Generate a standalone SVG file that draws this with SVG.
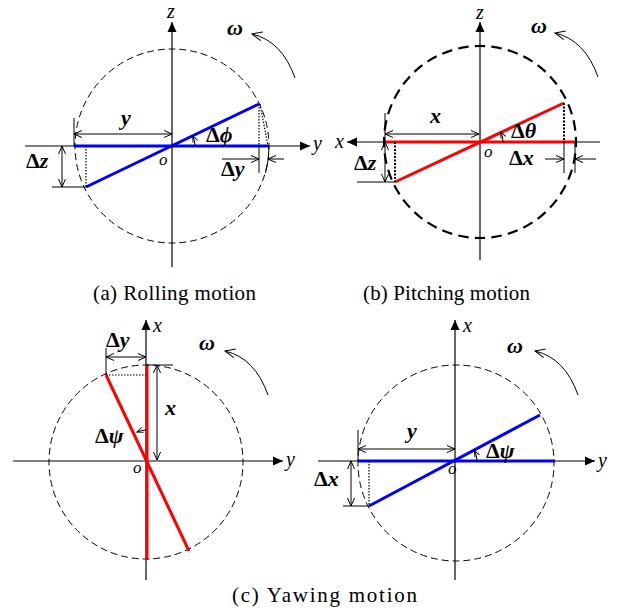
<svg xmlns="http://www.w3.org/2000/svg" width="620" height="613" viewBox="0 0 620 613">
<defs>
<marker id="ax" viewBox="0 0 10 10" refX="10" refY="5" markerWidth="10" markerHeight="10" markerUnits="userSpaceOnUse" orient="auto"><path d="M0,0.5 L10,5 L0,9.5 z" fill="#000"/></marker>
<marker id="dm" viewBox="-1 -1 10 9" refX="8" refY="3.5" markerWidth="10" markerHeight="9" markerUnits="userSpaceOnUse" orient="auto-start-reverse"><path d="M0,0 L8,3.5 L0,7" fill="none" stroke="#000" stroke-width="1"/></marker>
<marker id="sm" viewBox="-1 -1 8 7" refX="6" refY="2.5" markerWidth="8" markerHeight="7" markerUnits="userSpaceOnUse" orient="auto"><path d="M0,0 L6,2.5 L0,5" fill="none" stroke="#000" stroke-width="1"/></marker>
<marker id="om" viewBox="-1 -1 12 11" refX="10" refY="4.5" markerWidth="12" markerHeight="11" markerUnits="userSpaceOnUse" orient="auto"><path d="M0,0 L10,4.5 L0,9" fill="none" stroke="#000" stroke-width="1"/></marker>
<path id="omArc" d="M0,0 Q-13,-37 -43,-44" fill="none" stroke="#000" stroke-width="1" marker-end="url(#om)"/>
</defs>
<style>
.axis{stroke:#000;stroke-width:1.2;fill:none;marker-end:url(#ax)}
.thin{stroke:#000;stroke-width:1;fill:none}
.dim{stroke:#000;stroke-width:1;fill:none;marker-start:url(#dm);marker-end:url(#dm)}
.dim1{stroke:#000;stroke-width:1;fill:none;marker-end:url(#dm)}
.ang{stroke:#000;stroke-width:1;fill:none;marker-end:url(#sm)}
.dot{stroke:#000;stroke-width:1.2;fill:none;stroke-dasharray:1.5 1.5}
.dotb{stroke:#000;stroke-width:2;fill:none;stroke-dasharray:2 1.5}
.circ{stroke:#000;stroke-width:1;fill:none;stroke-dasharray:7 4;stroke-dashoffset:3.5}
.circb{stroke:#000;stroke-width:2.2;fill:none;stroke-dasharray:10 6;stroke-dashoffset:5}
.blue{stroke:#0000FF;stroke-width:3;fill:none}
.red{stroke:#FF0000;stroke-width:3;fill:none}
text{font-family:"Liberation Serif","DejaVu Serif",serif;fill:#000}
.al{font-size:20px;font-style:italic}
.o{font-size:17px;font-style:italic}
.bl{font-size:22px;font-weight:bold}
.bi{font-size:22px;font-weight:bold;font-style:italic}
.cap{font-size:21px}
</style>

<g id="panel-a">
<circle class="circ" cx="172" cy="146" r="97" pathLength="616"/>
<line class="axis" x1="172" y1="267" x2="172" y2="22"/>
<line class="axis" x1="25" y1="146" x2="310" y2="146"/>
<line class="blue" x1="74" y1="146" x2="269" y2="146"/>
<line class="blue" x1="86" y1="187" x2="259" y2="104"/>
<line class="dot" x1="86" y1="146" x2="86" y2="187"/>
<line class="dot" x1="259" y1="104" x2="259" y2="146"/>
<line class="dot" x1="260" y1="104" x2="268" y2="146"/>
<line class="thin" x1="259" y1="146" x2="259" y2="173"/>
<path class="thin" d="M269,146 A97,97 0 0 1 265.5,173"/>
<line class="dim1" x1="222" y1="159" x2="259" y2="159"/>
<line class="dim1" x1="284" y1="159" x2="268" y2="159"/>
<line class="dim" x1="62" y1="146" x2="62" y2="187"/>
<line class="thin" x1="52" y1="187" x2="86" y2="187"/>
<line class="dim" x1="74" y1="134" x2="172" y2="134"/>
<line class="thin" x1="74" y1="118" x2="74" y2="146"/>
<path class="ang" d="M195,146 A23,23 0 0 0 192.7,136"/>
<use href="#omArc" x="295" y="78"/>
<text class="al" x="167" y="18">z</text>
<text class="al" x="313" y="150">y</text>
<text class="o" x="159" y="165">o</text>
<text class="bi" x="121" y="125">y</text>
<text class="bl" x="26" y="168">Δ<tspan font-style="italic">z</tspan></text>
<text class="bl" x="221" y="176">Δ<tspan font-style="italic">y</tspan></text>
<text class="bl" x="206" y="142">Δ<tspan font-style="italic">ϕ</tspan></text>
<text class="bi" x="227" y="35">ω</text>
<text class="cap" x="93" y="300" textLength="163" lengthAdjust="spacing">(a) Rolling motion</text>
</g>

<g id="panel-b">
<circle class="circb" cx="480" cy="142" r="96" pathLength="576"/>
<line class="axis" x1="480" y1="260" x2="480" y2="22"/>
<line class="axis" x1="600" y1="142" x2="347" y2="142"/>
<line class="red" x1="385" y1="142" x2="575" y2="142"/>
<line class="red" x1="395" y1="182" x2="564" y2="103"/>
<line class="dotb" x1="395" y1="142" x2="395" y2="182"/>
<line class="dotb" x1="564" y1="103" x2="564" y2="142"/>
<line class="thin" x1="564" y1="142" x2="564" y2="173"/>
<line class="thin" x1="575" y1="142" x2="575" y2="173"/>
<line class="dim1" x1="545" y1="159" x2="564" y2="159"/>
<line class="dim1" x1="596" y1="159" x2="575" y2="159"/>
<line class="dim" x1="385" y1="142" x2="385" y2="182"/>
<line class="thin" x1="357" y1="182" x2="395" y2="182"/>
<line class="dim" x1="385" y1="134" x2="479" y2="134"/>
<line class="thin" x1="385" y1="113" x2="385" y2="142"/>
<path class="ang" d="M503,142 A23,23 0 0 0 500.7,132"/>
<use href="#omArc" x="598" y="77"/>
<text class="al" x="476" y="19">z</text>
<text class="al" x="335" y="148">x</text>
<text class="o" x="484" y="157">o</text>
<text class="bi" x="430" y="123">x</text>
<text class="bl" x="354" y="170">Δ<tspan font-style="italic">z</tspan></text>
<text class="bl" x="509" y="165">Δ<tspan font-style="italic">x</tspan></text>
<text class="bl" x="511" y="138">Δ<tspan font-style="italic">θ</tspan></text>
<text class="bi" x="531" y="33">ω</text>
<text class="cap" x="363" y="300" textLength="167" lengthAdjust="spacing">(b) Pitching motion</text>
</g>

<g id="panel-c-left">
<circle class="circ" cx="146" cy="462" r="97" pathLength="616"/>
<line class="axis" x1="146" y1="580" x2="146" y2="320"/>
<line class="axis" x1="13" y1="461" x2="283" y2="461"/>
<line class="red" x1="147" y1="365" x2="147" y2="560"/>
<line class="red" x1="106" y1="375" x2="189" y2="551"/>
<line class="dot" x1="106" y1="375" x2="146" y2="375"/>
<line class="dim" x1="106" y1="357" x2="146" y2="357"/>
<line class="thin" x1="106" y1="348" x2="106" y2="375"/>
<line class="dim" x1="157" y1="365" x2="157" y2="460"/>
<line class="thin" x1="146" y1="365" x2="173" y2="365"/>
<path class="ang" d="M146,430 A31,31 0 0 0 137,432"/>
<use href="#omArc" x="268" y="395"/>
<text class="al" x="153" y="332">x</text>
<text class="al" x="286" y="466">y</text>
<text class="o" x="133" y="473">o</text>
<text class="bi" x="165" y="415">x</text>
<text class="bl" x="106" y="347">Δ<tspan font-style="italic">y</tspan></text>
<text class="bl" x="95" y="443">Δ<tspan font-style="italic">ψ</tspan></text>
<text class="bi" x="199" y="350">ω</text>
</g>

<g id="panel-c-right">
<circle class="circ" cx="456" cy="463" r="98" pathLength="616"/>
<line class="axis" x1="455" y1="580" x2="455" y2="320"/>
<line class="axis" x1="318" y1="461" x2="595" y2="461"/>
<line class="blue" x1="358" y1="461" x2="555" y2="461"/>
<line class="blue" x1="369" y1="506" x2="540" y2="415"/>
<line class="dot" x1="369" y1="461" x2="369" y2="506"/>
<line class="dim" x1="351" y1="461" x2="351" y2="506"/>
<line class="thin" x1="343" y1="506" x2="369" y2="506"/>
<line class="dim" x1="358" y1="449" x2="455" y2="449"/>
<line class="thin" x1="358" y1="430" x2="358" y2="461"/>
<path class="ang" d="M477,461 A22,22 0 0 0 474.4,450.7"/>
<use href="#omArc" x="578" y="395"/>
<text class="al" x="463" y="332">x</text>
<text class="al" x="598" y="467">y</text>
<text class="o" x="448" y="474">o</text>
<text class="bi" x="407" y="438">y</text>
<text class="bl" x="314" y="486">Δ<tspan font-style="italic">x</tspan></text>
<text class="bl" x="486" y="458">Δ<tspan font-style="italic">ψ</tspan></text>
<text class="bi" x="507" y="353">ω</text>
</g>

<text class="cap" x="232" y="602" textLength="185" lengthAdjust="spacing">(c) Yawing motion</text>
</svg>
